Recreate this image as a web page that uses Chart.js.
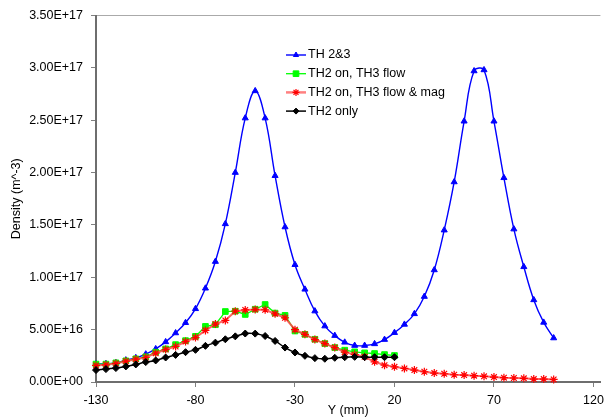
<!DOCTYPE html>
<html>
<head>
<meta charset="utf-8">
<script src="https://cdn.jsdelivr.net/npm/chart.js@4.4.1/dist/chart.umd.min.js"></script>
<style>
html,body{margin:0;padding:0;background:#fff;overflow:hidden}
canvas{display:block}
</style>
</head>
<body>
<canvas id="c" width="610" height="417"></canvas>
<script>
// ---- data (positions in mm, densities in m^-3) ----
const posLong = [-130,-125,-120,-115,-110,-105,-100,-95,-90,-85,-80,-75,-70,-65,-60,-55,-50,-45,-40,-35,-30,-25,-20,-15,-10,-5,0,5,10,15,20,25,30,35,40,45,50,55,60,65,70,75,80,85,90,95,100];
const posShort = [-130,-125,-120,-115,-110,-105,-100,-95,-90,-85,-80,-75,-70,-65,-60,-55,-50,-45,-40,-35,-30,-25,-20,-15,-10,-5,0,5,10,15,20];

const th23 = [1.71e16,1.74e16,1.83e16,2.09e16,2.31e16,2.66e16,3.16e16,3.83e16,4.68e16,5.66e16,
  6.99e16,8.95e16,1.15e17,1.51e17,2.00e17,2.52e17,2.78e17,2.52e17,1.97e17,1.48e17,
  1.12e17,8.85e16,6.77e16,5.34e16,4.43e16,3.79e16,3.48e16,3.48e16,3.64e16,4.05e16,
  4.71e16,5.50e16,6.51e16,8.16e16,1.07e17,1.45e17,1.91e17,2.49e17,2.97e17,2.98e17,
  2.49e17,1.95e17,1.46e17,1.10e17,7.84e16,5.69e16,4.20e16];

const th2onTh3flow = [1.71e16,1.71e16,1.83e16,2.02e16,2.21e16,2.40e16,2.85e16,3.16e16,3.57e16,3.95e16,
  4.36e16,5.31e16,5.47e16,6.73e16,6.76e16,6.45e16,6.95e16,7.40e16,6.58e16,6.36e16,
  4.87e16,4.55e16,4.08e16,3.67e16,3.29e16,3.04e16,2.88e16,2.78e16,2.72e16,2.62e16,
  2.53e16];

const th2onTh3flowMag = [1.58e16,1.64e16,1.77e16,1.99e16,2.18e16,2.34e16,2.75e16,3.10e16,3.39e16,3.86e16,
  4.24e16,4.93e16,5.53e16,5.88e16,6.76e16,6.88e16,6.92e16,6.90e16,6.51e16,6.13e16,
  5.00e16,4.55e16,4.05e16,3.67e16,3.29e16,2.85e16,2.62e16,2.40e16,1.93e16,1.61e16,
  1.45e16,1.30e16,1.14e16,9.8e15,8.5e15,7.9e15,6.9e15,6.6e15,6.0e15,5.4e15,
  4.7e15,4.1e15,3.8e15,3.5e15,2.8e15,2.8e15,2.5e15];

const th2only = [1.14e16,1.23e16,1.33e16,1.49e16,1.68e16,1.90e16,2.06e16,2.34e16,2.59e16,2.85e16,
  3.07e16,3.45e16,3.76e16,4.08e16,4.36e16,4.63e16,4.62e16,4.39e16,3.92e16,3.29e16,
  2.82e16,2.50e16,2.28e16,2.22e16,2.31e16,2.37e16,2.40e16,2.37e16,2.37e16,2.37e16,
  2.37e16];

const seriesNames = ['TH 2&3','TH2 on, TH3 flow','TH2 on, TH3 flow & mag','TH2 only'];
const xTicks = [-130,-80,-30,20,70,120];
const yTicks = [0,5e16,1e17,1.5e17,2e17,2.5e17,3e17,3.5e17];
const xMin = -130, xMax = 123.5;
const yMin = 0, yMax = 3.5e17;

// ---- helpers ----
const FONT = '"Liberation Sans", Arial, sans-serif';
Chart.defaults.font.family = FONT;
Chart.defaults.font.size = 12.5;
Chart.defaults.color = '#000';

function toPts(xs, ys) { return ys.map((v, i) => ({x: xs[i], y: v})); }
function fmtExp(v) {
  const s = Number(v).toExponential(2).toUpperCase();
  return s.replace(/E([+-])(\d+)$/, (m, sg, d) => 'E' + sg + (d.length < 2 ? '0' + d : d));
}

const legendPlugin = {
  id: 'insideLegend',
  afterDraw(chart) {
    const ctx = chart.ctx;
    const x0 = 286, x1 = 306, tx = 308, y0 = 55, dy = 18.7;
    chart.data.datasets.forEach((ds, i) => {
      const y = y0 + i * dy;
      ctx.save();
      ctx.strokeStyle = ds.legendLineColor || ds.borderColor;
      ctx.lineWidth = ds.legendLineWidth || ds.borderWidth;
      ctx.beginPath(); ctx.moveTo(x0, y); ctx.lineTo(x1, y); ctx.stroke();
      ctx.fillStyle = ds.pointBackgroundColor;
      ctx.strokeStyle = ds.pointBorderColor;
      ctx.lineWidth = ds.pointBorderWidth;
      Chart.helpers.drawPoint(ctx, {pointStyle: ds.pointStyle, radius: ds.legendPointRadius, borderWidth: ds.pointBorderWidth, rotation: 0}, (x0 + x1) / 2, y);
      ctx.fillStyle = '#000';
      ctx.font = '12.5px ' + FONT;
      ctx.textBaseline = 'middle';
      ctx.textAlign = 'left';
      ctx.fillText(ds.label, tx, y);
      ctx.restore();
    });
  }
};

new Chart(document.getElementById('c'), {
  type: 'line',
  data: {
    datasets: [
      {
        label: seriesNames[0], data: toPts(posLong, th23), order: 4,
        borderColor: '#0000ff', borderWidth: 1.4, tension: 0.4, clip: false,
        pointStyle: 'triangle', pointRadius: 3.5, legendPointRadius: 3,
        pointBackgroundColor: '#0000ff', pointBorderColor: '#0000ff', pointBorderWidth: 1
      },
      {
        label: seriesNames[1], data: toPts(posShort, th2onTh3flow), order: 3,
        borderColor: '#00ff00', borderWidth: 1.3, tension: 0, clip: false,
        pointStyle: 'rect', pointRadius: 4, legendPointRadius: 4,
        pointBackgroundColor: '#00ff00', pointBorderColor: '#00ff00', pointBorderWidth: 1
      },
      {
        label: seriesNames[2], data: toPts(posLong, th2onTh3flowMag), order: 2,
        borderColor: 'rgba(255,70,70,0.85)', borderWidth: 2, tension: 0, clip: false,
        legendLineColor: '#ff8080', legendLineWidth: 2.5,
        pointStyle: 'star', pointRadius: 4, legendPointRadius: 3.5,
        pointBackgroundColor: '#ff0000', pointBorderColor: '#ff0000', pointBorderWidth: 1.2
      },
      {
        label: seriesNames[3], data: toPts(posShort, th2only), order: 1,
        borderColor: '#000000', borderWidth: 1.5, tension: 0.2, clip: false,
        pointStyle: 'rectRot', pointRadius: 3.5, legendPointRadius: 3,
        pointBackgroundColor: '#000000', pointBorderColor: '#000000', pointBorderWidth: 1
      }
    ]
  },
  options: {
    responsive: false,
    animation: false,
    devicePixelRatio: 1,
    layout: {padding: {top: 13, right: 8, left: 0, bottom: 0}},
    plugins: {legend: {display: false}, tooltip: {enabled: false}},
    scales: {
      x: {
        type: 'linear', min: xMin, max: xMax,
        afterBuildTicks: s => { s.ticks = xTicks.map(v => ({value: v})); },
        afterFit: s => { s.height = 35; },
        grid: {color: 'rgba(0,0,0,0)', tickColor: '#808080', tickLength: 5},
        border: {color: '#6e6e6e', width: 2},
        ticks: {padding: 6, maxRotation: 0, autoSkip: false, callback: v => String(v)},
        title: {display: true, text: 'Y (mm)', font: {size: 12.5, lineHeight: 1}, padding: {top: 0, bottom: 0}}
      },
      y: {
        type: 'linear', min: yMin, max: yMax,
        afterBuildTicks: s => { s.ticks = yTicks.map(v => ({value: v})); },
        afterFit: s => { s.width = 96; },
        grid: {
          color: c => (c.tick && c.tick.value >= yMax * 0.999) ? '#aaaaaa' : 'rgba(0,0,0,0)',
          tickColor: '#808080', tickLength: 5
        },
        border: {color: '#6e6e6e', width: 2},
        ticks: {padding: 8, autoSkip: false, callback: v => fmtExp(v)},
        title: {display: true, text: 'Density (m^-3)', font: {size: 12.5, lineHeight: 1.2}, padding: {top: 9.5, bottom: 0}}
      }
    }
  },
  plugins: [legendPlugin]
});
</script>
</body>
</html>
